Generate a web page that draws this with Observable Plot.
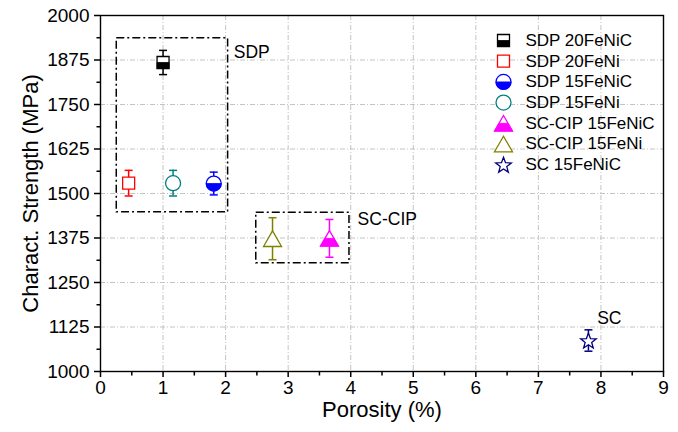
<!DOCTYPE html>
<html>
<head>
<meta charset="utf-8">
<script src="https://cdn.jsdelivr.net/npm/d3@7"></script>
<script src="https://cdn.jsdelivr.net/npm/@observablehq/plot@0.6"></script>
<style>
  html, body { margin: 0; padding: 0; background: #fff; }
  #chart svg g[aria-label*="axis"] line, #chart svg g[aria-label*="axis"] path { stroke-width: 1.5; }
</style>
</head>
<body>
<div id="chart"></div>
<script>
// ---- data ----
const names    = ["SDP 20FeNiC", "SDP 20FeNi", "SDP 15FeNiC", "SDP 15FeNi", "SC-CIP 15FeNiC", "SC-CIP 15FeNi", "SC 15FeNiC"];
const porosity = [1.00, 0.45, 1.81, 1.16, 3.66, 2.75, 7.80];
const strength = [1868, 1529, 1528, 1529, 1374, 1373, 1087];
const errors   = [34, 36, 32, 36, 53, 59, 30];
const colors   = ["#000000", "#FF0000", "#0000FF", "#008080", "#FF00FF", "#808000", "#000080"];
const shapes   = ["squareHalf", "square", "circleHalf", "circle", "triangleHalf", "triangle", "star"];

const xTicks = [0, 1, 2, 3, 4, 5, 6, 7, 8, 9];
const yTicks = [1000, 1125, 1250, 1375, 1500, 1625, 1750, 1875, 2000];
const xMinor = [0.5, 1.5, 2.5, 3.5, 4.5, 5.5, 6.5, 7.5, 8.5];
const yMinor = [1062.5, 1187.5, 1312.5, 1437.5, 1562.5, 1687.5, 1812.5, 1937.5];

// annotation boxes (data coordinates)
const boxX1 = [0.26, 2.49];
const boxX2 = [2.04, 3.98];
const boxY1 = [1447, 1304];
const boxY2 = [1936, 1446];
const annText = ["SDP", "SC-CIP", "SC"];
const annX = [2.13, 4.11, 7.94];
const annY = [1897, 1428, 1150];

// ---- custom symbols ----
function sym(fn) { return {draw(c) { fn(c); }}; }
const S = 6, C = 7.5, TW = 9, TH = 7.8, SR = 8.2;
const symbols = {
  square: sym(c => { c.moveTo(-S, -S); c.lineTo(S, -S); c.lineTo(S, S); c.lineTo(-S, S); c.closePath(); }),
  squareBottom: sym(c => { c.moveTo(-S, 0); c.lineTo(S, 0); c.lineTo(S, S); c.lineTo(-S, S); c.closePath(); }),
  circle: sym(c => { c.moveTo(C, 0); c.arc(0, 0, C, 0, 2 * Math.PI); c.closePath(); }),
  circleBottom: sym(c => { c.moveTo(C, 0); c.arc(0, 0, C, 0, Math.PI); c.closePath(); }),
  triangle: sym(c => { c.moveTo(0, -TH); c.lineTo(TW, TH); c.lineTo(-TW, TH); c.closePath(); }),
  triangleBottom: sym(c => { c.moveTo(-TW / 2, 0); c.lineTo(TW / 2, 0); c.lineTo(TW, TH); c.lineTo(-TW, TH); c.closePath(); }),
  star: sym(c => {
    for (let k = 0; k < 10; k++) {
      const a = -Math.PI / 2 + k * Math.PI / 5;
      const r = k % 2 === 0 ? SR : SR * 0.42;
      const px = r * Math.cos(a), py = r * Math.sin(a) + 0.8;
      if (k === 0) c.moveTo(px, py); else c.lineTo(px, py);
    }
    c.closePath();
  }),
  cap: sym(c => { c.moveTo(-4, 0); c.lineTo(4, 0); }),
  minorX: sym(c => { c.moveTo(0, 0); c.lineTo(0, 4); }),
  minorY: sym(c => { c.moveTo(0, 0); c.lineTo(-4, 0); })
};
const shapeDefs = {
  squareHalf: ["square", "squareBottom"],
  square: ["square", null],
  circleHalf: ["circle", "circleBottom"],
  circle: ["circle", null],
  triangleHalf: ["triangle", "triangleBottom"],
  triangle: ["triangle", null],
  star: ["star", null]
};

const rows = names.map((name, i) => ({name, x: porosity[i], y: strength[i], e: errors[i], color: colors[i], shape: shapes[i]}));
const boxes = boxX1.map((d, i) => ({x1: boxX1[i], x2: boxX2[i], y1: boxY1[i], y2: boxY2[i]}));
const anns = annText.map((t, i) => ({t, x: annX[i], y: annY[i]}));

const FONT = "'Liberation Sans', Arial, Helvetica, sans-serif";
const marks = [];

// grid
marks.push(Plot.ruleX(xTicks.slice(1, -1), {stroke: "#c4c4c4", strokeWidth: 1, strokeDasharray: "5,2,1,2"}));
marks.push(Plot.ruleY(yTicks.slice(1, -1), {stroke: "#c4c4c4", strokeWidth: 1, strokeDasharray: "5,2,1,2"}));

// annotation boxes
marks.push(Plot.rect(boxes, {x1: "x1", x2: "x2", y1: "y1", y2: "y2", fill: "none", stroke: "black", strokeWidth: 1.5, strokeDasharray: "8,3,2,3"}));

// data: error bars and markers
rows.forEach(r => {
  const [outline, half] = shapeDefs[r.shape];
  marks.push(Plot.ruleX([r], {x: "x", y1: d => d.y - d.e, y2: d => d.y + d.e, stroke: r.color, strokeWidth: 1.5}));
  marks.push(Plot.dot([r], {x: "x", y: d => d.y + d.e, symbol: symbols.cap, fill: "none", stroke: r.color, strokeWidth: 1.5}));
  marks.push(Plot.dot([r], {x: "x", y: d => d.y - d.e, symbol: symbols.cap, fill: "none", stroke: r.color, strokeWidth: 1.5}));
  marks.push(Plot.dot([r], {x: "x", y: "y", symbol: symbols[outline], fill: "white", stroke: r.color, strokeWidth: 1.3}));
  if (half) marks.push(Plot.dot([r], {x: "x", y: "y", symbol: symbols[half], fill: r.color, stroke: r.color, strokeWidth: 0.8}));
});

// frame + minor ticks
marks.push(Plot.frame({stroke: "black", strokeWidth: 1.4}));
marks.push(Plot.dot(xMinor, {x: d => d, y: () => 1000, symbol: symbols.minorX, fill: "none", stroke: "black", strokeWidth: 1.5}));
marks.push(Plot.dot(yMinor, {x: () => 0, y: d => d, symbol: symbols.minorY, fill: "none", stroke: "black", strokeWidth: 1.5}));

// annotations
marks.push(Plot.text(anns, {x: "x", y: "y", text: "t", textAnchor: "start", lineAnchor: "middle", fontSize: 17.5, fontFamily: FONT, fill: "black"}));

// legend
rows.forEach((r, i) => {
  const [outline, half] = shapeDefs[r.shape];
  const dy = 25 + i * 20.7;
  marks.push(Plot.dot([r], {frameAnchor: "top-left", dx: 403, dy, symbol: symbols[outline], fill: "white", stroke: r.color, strokeWidth: 1.3}));
  if (half) marks.push(Plot.dot([r], {frameAnchor: "top-left", dx: 403, dy, symbol: symbols[half], fill: r.color, stroke: r.color, strokeWidth: 0.8}));
  marks.push(Plot.text([r], {frameAnchor: "top-left", dx: 425, dy, text: "name", textAnchor: "start", lineAnchor: "middle", fontSize: 17, fontFamily: FONT, fill: "black"}));
});

// axis titles
marks.push(Plot.text(["Charact. Strength (MPa)"], {frameAnchor: "left", dx: -70, rotate: -90, textAnchor: "middle", lineAnchor: "middle", fontSize: 22, fontFamily: FONT, fill: "black"}));
marks.push(Plot.text(["Porosity (%)"], {frameAnchor: "bottom", dy: 38, textAnchor: "middle", lineAnchor: "middle", fontSize: 22, fontFamily: FONT, fill: "black"}));

const chart = Plot.plot({
  width: 678,
  height: 432,
  marginLeft: 100,
  marginRight: 15,
  marginTop: 15,
  marginBottom: 61,
  style: {fontFamily: FONT, fontSize: "19px", color: "black", background: "white", overflow: "visible"},
  x: {domain: [0, 9], ticks: xTicks, tickSize: 6, tickPadding: 3, tickFormat: d => String(d), label: null},
  y: {domain: [1000, 2000], ticks: yTicks, tickSize: 6, tickPadding: 5, tickFormat: d => String(d), label: null},
  marks
});
document.getElementById("chart").appendChild(chart);
</script>
</body>
</html>
